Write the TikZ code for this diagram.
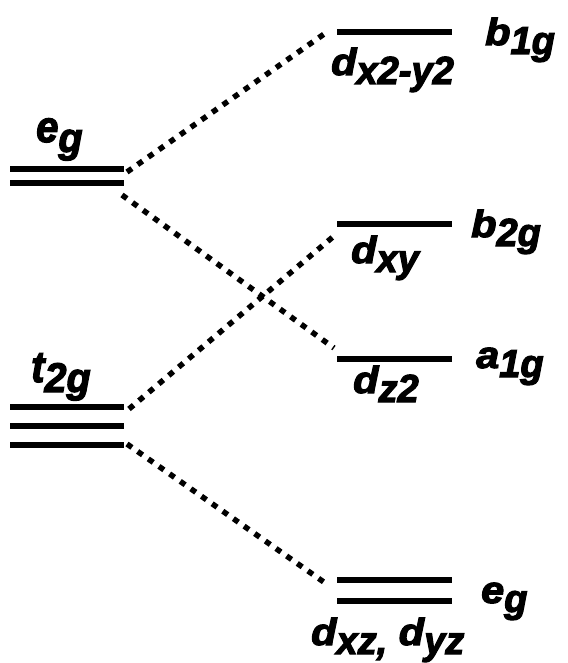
\documentclass[tikz,border=0pt]{standalone}
\usepackage{fontspec}
\setmainfont{Liberation Sans}[BoldItalicFeatures={FakeBold=3}]
\usepackage{graphicx}
\newcommand{\MainR}[1]{\scalebox{1.15}[1.05]{\fontsize{36}{36}\selectfont #1}}
\newcommand{\SubR}[1]{\raisebox{-9pt}{\scalebox{1.12}[1.15]{\fontsize{34}{34}\selectfont #1}}}
\newcommand{\MainL}[1]{\scalebox{1}[1.1]{\fontsize{40}{40}\selectfont #1}}
\newcommand{\SubL}[1]{\raisebox{-10pt}{\scalebox{1.1}[1.15]{\fontsize{36}{36}\selectfont #1}}}
\tikzset{
  level/.style={line width=6pt},
  conn/.style={line width=5.5pt, dash pattern=on 6pt off 7pt},
  lab/.style={anchor=base west, inner sep=0pt, font=\bfseries\itshape}
}
\begin{document}
\begin{tikzpicture}[x=1pt,y=-1pt]
\useasboundingbox (0,0) rectangle (567,663);
% levels
\draw[level] (10,169) -- (124,169);
\draw[level] (10,183) -- (124,183);
\draw[level] (10,407) -- (124,407);
\draw[level] (10,426) -- (124,426);
\draw[level] (10,445) -- (124,445);
\draw[level] (337,32) -- (452,32);
\draw[level] (337,224) -- (452,224);
\draw[level] (337,359) -- (452,359);
\draw[level] (337,580) -- (452,580);
\draw[level] (337,601) -- (452,601);
% connector end points
\coordinate (egT) at (127,172);
\coordinate (egB) at (122,195);
\coordinate (tT) at (129,409);
\coordinate (tB) at (127,444);
\coordinate (bA) at (327,32);
\coordinate (bB) at (334,236);
\coordinate (aA) at (334,348);
\coordinate (eR) at (328,585);
\draw[conn] (egT) -- (bA);
\draw[conn] (egB) -- (aA);
\draw[conn] (tT) -- (bB);
\draw[conn] (tB) -- (eR);
% labels
\node[lab] (leg) at (36,142) {\MainL{e}\SubL{g}};
\node[lab] (lt) at (31,382) {\MainL{t}\SubL{2g}};
\node[lab] (b1) at (485,45) {\MainR{b}\SubR{1g}};
\node[lab] (dx2) at (331,75) {\MainR{d}\SubR{x2-y2}};
\node[lab] (b2) at (471,237) {\MainR{b}\SubR{2g}};
\node[lab] (dxy) at (351,263) {\MainR{d}\SubR{xy}};
\node[lab] (a1) at (476,368) {\MainR{a}\SubR{1g}};
\node[lab] (dz2) at (353,393) {\MainR{d}\SubR{z2}};
\node[lab] (egr) at (481,603) {\MainR{e}\SubR{g}};
\node[lab] (dxz) at (311,645) {\MainR{d}\SubR{xz,}\MainR{ d}\SubR{yz}};
\end{tikzpicture}
\end{document}
